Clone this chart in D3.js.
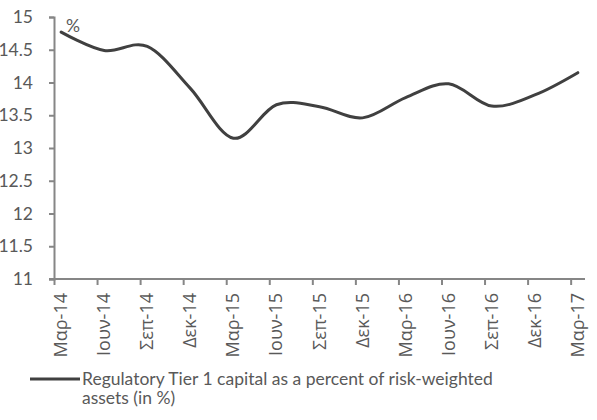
<!DOCTYPE html>
<html><head><meta charset="utf-8">
<script src="https://cdn.jsdelivr.net/npm/d3@7"></script>
<style>body{margin:0;background:#fff}svg{display:block}</style>
</head><body>
<svg id="c" width="597" height="420"></svg>
<script>
const categories = ["Μαρ-14","Ιουν-14","Σεπ-14","Δεκ-14","Μαρ-15","Ιουν-15","Σεπ-15","Δεκ-15","Μαρ-16","Ιουν-16","Σεπ-16","Δεκ-16","Μαρ-17"];
const values = [14.77,14.49,14.55,13.91,13.15,13.66,13.63,13.46,13.77,13.98,13.64,13.81,14.15];
const yTicks = [11,11.5,12,12.5,13,13.5,14,14.5,15];
const seriesName = "Regulatory Tier 1 capital as a percent of risk-weighted";
const seriesName2 = "assets (in %)";
const unitLabel = "%";

const svg = d3.select("#c");
const font = "Lato, 'Open Sans', sans-serif";
const gfont = "'Open Sans', sans-serif";
const L = 54, R = 585, T = 17, B = 279;
const nMonths = (categories.length - 1) * 3 + 1;
const x = d3.scaleLinear().domain([0, nMonths]).range([L, R]);
const y = d3.scaleLinear().domain([11, 15]).range([B, T]);
const axisColor = "#868686", textColor = "#595959";

// y axis
const ya = svg.append("g").attr("transform", `translate(${L},0)`)
  .call(d3.axisLeft(y).tickValues(yTicks).tickSize(5).tickPadding(16)
    .tickFormat(d => String(d)));
ya.select(".domain").attr("stroke", axisColor).attr("stroke-width", 2);
ya.selectAll(".tick line").attr("stroke", axisColor).attr("stroke-width", 2);
ya.selectAll(".tick text").attr("fill", textColor).attr("font-family", font).attr("font-size", 17.5);

// x axis
const tickMonths = categories.map((c, i) => i * 3);
const xa = svg.append("g").attr("transform", `translate(0,${B})`)
  .call(d3.axisBottom(x).tickValues(tickMonths).tickSize(6).tickFormat(""));
xa.select(".domain").attr("stroke", axisColor).attr("stroke-width", 2).attr("d", `M${L - 5},0H${R}`);
xa.selectAll(".tick line").attr("stroke", axisColor).attr("stroke-width", 2);

svg.append("g").selectAll("text").data(categories).join("text")
  .attr("transform", (d, i) => `translate(${x(i * 3 + 0.5) + 6},${B + 14}) rotate(-90)`)
  .attr("text-anchor", "end")
  .attr("fill", textColor).attr("font-family", gfont).attr("font-size", 18)
  .text(d => d);

// line
const line = d3.line()
  .x((d, i) => x(i * 3 + 0.5))
  .y(d => y(d))
  .curve(d3.curveCardinal.tension(0));
svg.append("path").datum(values)
  .attr("d", line).attr("fill", "none")
  .attr("stroke", "#404040").attr("stroke-width", 3).attr("stroke-linecap", "round");

// unit label
svg.append("text").attr("x", 66).attr("y", 32)
  .attr("fill", textColor).attr("font-family", font).attr("font-size", 17.5).text(unitLabel);

// legend
svg.append("line").attr("x1", 30).attr("x2", 80).attr("y1", 379).attr("y2", 379)
  .attr("stroke", "#404040").attr("stroke-width", 3);
svg.append("text").attr("x", 82).attr("y", 385)
  .attr("fill", textColor).attr("font-family", font).attr("font-size", 17.5).text(seriesName);
svg.append("text").attr("x", 82).attr("y", 404)
  .attr("fill", textColor).attr("font-family", font).attr("font-size", 17.5).text(seriesName2);
</script>
</body></html>
